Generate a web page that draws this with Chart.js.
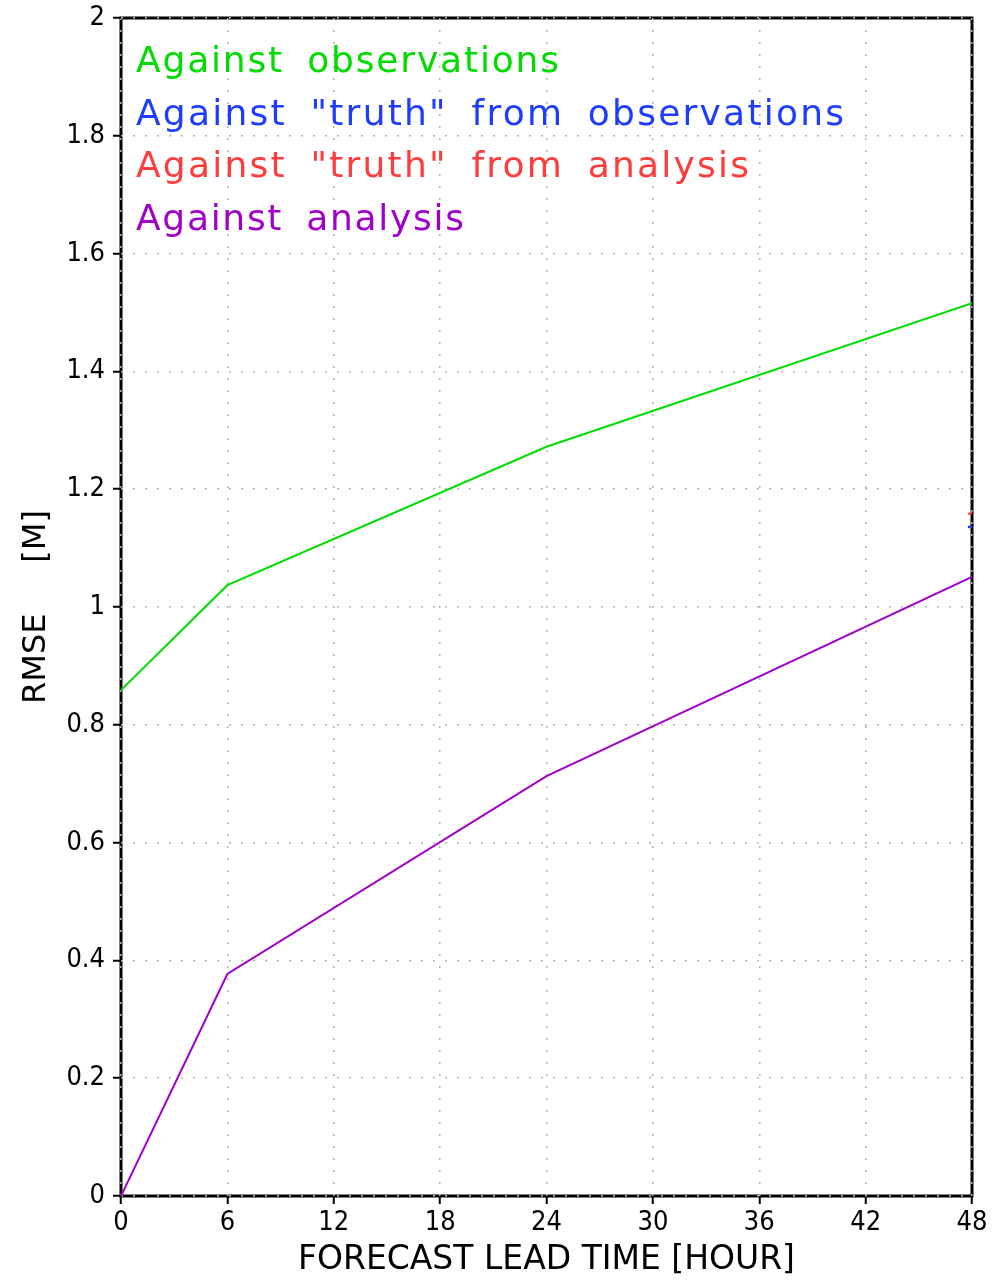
<!DOCTYPE html>
<html><head><meta charset="utf-8">
<script src="https://cdn.jsdelivr.net/npm/chart.js@4.4.1/dist/chart.umd.min.js"></script>
<style>html,body{margin:0;padding:0;background:#fff;overflow:hidden;}canvas{display:block;}</style>
</head><body>
<canvas id="c" width="999" height="1283"></canvas>
<script>
// ---- data ----
const leadHours = [0, 6, 24, 48];
const vsObservations = [0.859, 1.037, 1.272, 1.516];
const vsAnalysis = [0, 0.377, 0.713, 1.051];
const truthObsHours = [48];
const truthObsValues = [1.136];
const truthAnaHours = [48];
const truthAnaValues = [1.160];
const xTickValues = [0, 6, 12, 18, 24, 30, 36, 42, 48];
const xTickLabels = ['0', '6', '12', '18', '24', '30', '36', '42', '48'];
const yTickValues = [0, 0.2, 0.4, 0.6, 0.8, 1, 1.2, 1.4, 1.6, 1.8, 2];
const yTickLabels = ['0', '0.2', '0.4', '0.6', '0.8', '1', '1.2', '1.4', '1.6', '1.8', '2'];
const seriesNames = ['Against observations', 'Against "truth" from observations', 'Against "truth" from analysis', 'Against analysis'];
const seriesColors = ['#00dc00', '#1e3cff', '#ff3c3c', '#a000c8'];
const xTitle = 'FORECAST LEAD TIME [HOUR]';
const yTitle = 'RMSE     [M]';

const toXY = (xs, ys) => xs.map((x, i) => ({x: x, y: ys[i]}));

const NARROW = '"Liberation Sans Narrow", "DejaVu Sans Condensed", "DejaVu Sans", sans-serif';
const WIDE = '"DejaVu Sans", sans-serif';

// frame under gridlines
const framePlugin = {
  id: 'frame',
  beforeDraw(chart) {
    const a = chart.chartArea, ctx = chart.ctx;
    ctx.save();
    ctx.strokeStyle = '#000';
    ctx.lineWidth = 3;
    ctx.strokeRect(a.left, a.top, a.right - a.left, a.bottom - a.top);
    ctx.restore();
  }
};

// text key inside the plot
const keyWidths = [423, 708, 613, 328];
const keyPlugin = {
  id: 'keyText',
  afterDraw(chart) {
    const a = chart.chartArea, ctx = chart.ctx;
    ctx.save();
    ctx.font = '36px ' + WIDE;
    ctx.textAlign = 'left';
    ctx.textBaseline = 'alphabetic';
    seriesNames.forEach((name, i) => {
      ctx.letterSpacing = '0px';
      ctx.wordSpacing = '10px';
      const w = ctx.measureText(name).width;
      const ls = (keyWidths[i] - w) / (name.length - 1);
      ctx.letterSpacing = ls + 'px';
      ctx.fillStyle = seriesColors[i];
      ctx.fillText(name, a.left + 15, a.top + 54 + i * 52.5);
    });
    ctx.restore();
  }
};

new Chart(document.getElementById('c'), {
  type: 'line',
  data: {
    datasets: [
      {label: seriesNames[0], data: toXY(leadHours, vsObservations), borderColor: seriesColors[0], borderWidth: 2, pointRadius: 0, fill: false, tension: 0},
      {label: seriesNames[1], data: toXY(truthObsHours, truthObsValues), borderColor: seriesColors[1], backgroundColor: seriesColors[1], borderWidth: 2.5, pointStyle: 'line', pointRadius: 4, fill: false},
      {label: seriesNames[2], data: toXY(truthAnaHours, truthAnaValues), borderColor: seriesColors[2], backgroundColor: seriesColors[2], borderWidth: 2.5, pointStyle: 'line', pointRadius: 4, pointRotation: -20, fill: false},
      {label: seriesNames[3], data: toXY(leadHours, vsAnalysis), borderColor: seriesColors[3], borderWidth: 2, pointRadius: 0, fill: false, tension: 0}
    ]
  },
  options: {
    responsive: false,
    animation: false,
    devicePixelRatio: 1,
    layout: {padding: {top: 18, right: 27, left: 0, bottom: 0}},
    plugins: {legend: {display: false}, tooltip: {enabled: false}, title: {display: false}},
    scales: {
      x: {
        type: 'linear', min: 0, max: 48,
        afterBuildTicks: s => { s.ticks = xTickValues.map(v => ({value: v})); },
        afterFit: s => { s.height = 87; s.paddingLeft = 0; s.paddingRight = 0; },
        ticks: {
          color: '#000', font: {family: NARROW, size: 27}, padding: 3, maxRotation: 0, autoSkip: false,
          callback: (v) => xTickLabels[xTickValues.indexOf(v)]
        },
        grid: {color: '#b4b4b4', lineWidth: 1.5, drawTicks: true, tickLength: 8, tickColor: '#000', tickWidth: 2, tickBorderDash: []},
        border: {display: false, dash: [2, 10]},
        title: {display: true, text: xTitle, color: '#000', font: {family: WIDE, size: 33}, padding: {top: 0, bottom: 3}}
      },
      y: {
        type: 'linear', min: 0, max: 2,
        afterBuildTicks: s => { s.ticks = yTickValues.map(v => ({value: v})); },
        afterFit: s => { s.width = 121; s.paddingTop = 0; s.paddingBottom = 0; },
        ticks: {
          color: '#000', font: {family: NARROW, size: 27}, padding: 8, autoSkip: false,
          callback: (v) => yTickLabels[yTickValues.findIndex(t => Math.abs(t - v) < 1e-9)]
        },
        grid: {color: '#b4b4b4', lineWidth: 1.5, drawTicks: true, tickLength: 8, tickColor: '#000', tickWidth: 2, tickBorderDash: []},
        border: {display: false, dash: [2, 10]},
        title: {display: true, text: yTitle, color: '#000', font: {family: WIDE, size: 32}, padding: {top: 17, bottom: 0}}
      }
    }
  },
  plugins: [framePlugin, keyPlugin]
});
</script>
</body></html>
